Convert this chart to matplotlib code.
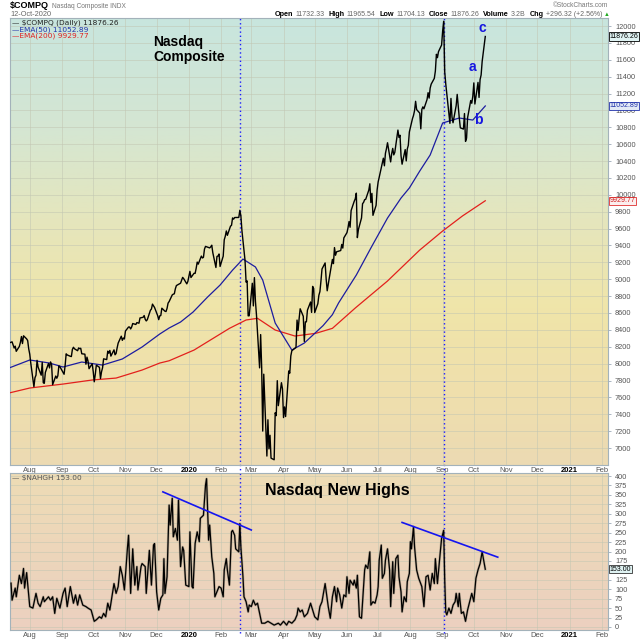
import numpy as np
import pandas as pd
import matplotlib
matplotlib.use('Agg')
import matplotlib.pyplot as plt
from matplotlib.colors import LinearSegmentedColormap

plt.rcParams['font.family'] = ['Liberation Sans', 'DejaVu Sans']

# ---- Nasdaq Composite daily closes ----
days_2019 = ['07-12', '07-15', '07-16', '07-17', '07-18', '07-19', '07-22', '07-23', '07-24', '07-25',
             '07-26', '07-29', '07-30', '07-31', '08-01', '08-02', '08-05', '08-06', '08-07', '08-08',
             '08-09', '08-12', '08-13', '08-14', '08-15', '08-16', '08-19', '08-20', '08-21', '08-22',
             '08-23', '08-26', '08-27', '08-28', '08-29', '08-30', '09-03', '09-04', '09-05', '09-06',
             '09-09', '09-10', '09-11', '09-12', '09-13', '09-16', '09-17', '09-18', '09-19', '09-20',
             '09-23', '09-24', '09-25', '09-26', '09-27', '09-30', '10-01', '10-02', '10-03', '10-04',
             '10-07', '10-08', '10-09', '10-10', '10-11', '10-14', '10-15', '10-16', '10-17', '10-18',
             '10-21', '10-22', '10-23', '10-24', '10-25', '10-28', '10-29', '10-30', '10-31', '11-01',
             '11-04', '11-05', '11-06', '11-07', '11-08', '11-11', '11-12', '11-13', '11-14', '11-15',
             '11-18', '11-19', '11-20', '11-21', '11-22', '11-25', '11-26', '11-27', '11-29', '12-02',
             '12-03', '12-04', '12-05', '12-06', '12-09', '12-10', '12-11', '12-12', '12-13', '12-16',
             '12-17', '12-18', '12-19', '12-20', '12-23', '12-24', '12-26', '12-27', '12-30', '12-31']
close_2019 = [8244, 8258, 8222, 8185, 8207, 8146, 8204, 8252, 8321, 8238,
              8330, 8293, 8273, 8175, 8111, 8004, 7726, 7833, 7863, 8039,
              7959, 7863, 8016, 7773, 7767, 7896, 8002, 7949, 8020, 7991,
              7751, 7853, 7827, 7856, 7974, 7963, 7874, 7977, 8116, 8103,
              8087, 8084, 8169, 8194, 8176, 8153, 8186, 8177, 8182, 8117,
              8112, 7993, 8077, 8031, 7940, 7999, 7908, 7785, 7872, 7982,
              7956, 7823, 7903, 7951, 8057, 8048, 8148, 8124, 8156, 8089,
              8163, 8105, 8120, 8186, 8243, 8325, 8276, 8303, 8292, 8386,
              8434, 8434, 8411, 8434, 8475, 8464, 8486, 8482, 8479, 8541,
              8549, 8570, 8526, 8506, 8520, 8632, 8647, 8705, 8665, 8568,
              8521, 8566, 8570, 8657, 8621, 8617, 8654, 8717, 8735, 8814,
              8823, 8827, 8887, 8925, 8945, 8953, 9022, 9007, 8945, 8973]

days_2020 = ['01-02', '01-03', '01-06', '01-07', '01-08', '01-09', '01-10', '01-13', '01-14', '01-15',
             '01-16', '01-17', '01-21', '01-22', '01-23', '01-24', '01-27', '01-28', '01-29', '01-30',
             '01-31', '02-03', '02-04', '02-05', '02-06', '02-07', '02-10', '02-11', '02-12', '02-13',
             '02-14', '02-18', '02-19', '02-20', '02-21', '02-24', '02-25', '02-26', '02-27', '02-28',
             '03-02', '03-03', '03-04', '03-05', '03-06', '03-09', '03-10', '03-11', '03-12', '03-13',
             '03-16', '03-17', '03-18', '03-19', '03-20', '03-23', '03-24', '03-25', '03-26', '03-27',
             '03-30', '03-31', '04-01', '04-02', '04-03', '04-06', '04-07', '04-08', '04-09', '04-13',
             '04-14', '04-15', '04-16', '04-17', '04-20', '04-21', '04-22', '04-23', '04-24', '04-27',
             '04-28', '04-29', '04-30', '05-01', '05-04', '05-05', '05-06', '05-07', '05-08', '05-11',
             '05-12', '05-13', '05-14', '05-15', '05-18', '05-19', '05-20', '05-21', '05-22', '05-26',
             '05-27', '05-28', '05-29', '06-01', '06-02', '06-03', '06-04', '06-05', '06-08', '06-09',
             '06-10', '06-11', '06-12', '06-15', '06-16', '06-17', '06-18', '06-19', '06-22', '06-23',
             '06-24', '06-25', '06-26', '06-29', '06-30', '07-01', '07-02', '07-06', '07-07', '07-08',
             '07-09', '07-10', '07-13', '07-14', '07-15', '07-16', '07-17', '07-20', '07-21', '07-22',
             '07-23', '07-24', '07-27', '07-28', '07-29', '07-30', '07-31', '08-03', '08-04', '08-05',
             '08-06', '08-07', '08-10', '08-11', '08-12', '08-13', '08-14', '08-17', '08-18', '08-19',
             '08-20', '08-21', '08-24', '08-25', '08-26', '08-27', '08-28', '08-31', '09-01', '09-02',
             '09-03', '09-04', '09-08', '09-09', '09-10', '09-11', '09-14', '09-15', '09-16', '09-17',
             '09-18', '09-21', '09-22', '09-23', '09-24', '09-25', '09-28', '09-29', '09-30', '10-01',
             '10-02', '10-05', '10-06', '10-07', '10-08', '10-09', '10-12']
close_2020 = [9093, 9020, 9071, 9069, 9129, 9203, 9179, 9274, 9252, 9259,
              9357, 9389, 9371, 9384, 9403, 9315, 9139, 9270, 9275, 9299,
              9151, 9273, 9467, 9509, 9572, 9520, 9628, 9639, 9726, 9712,
              9731, 9732, 9817, 9751, 9577, 9221, 8966, 8980, 8566, 8567,
              8952, 8684, 9019, 8738, 8576, 7950, 8344, 7952, 7201, 7875,
              6905, 7335, 6990, 7151, 6880, 6861, 7418, 7384, 7798, 7502,
              7774, 7700, 7361, 7487, 7373, 7913, 7887, 8091, 8153, 8193,
              8516, 8393, 8533, 8650, 8561, 8263, 8495, 8495, 8634, 8730,
              8607, 8915, 8890, 8605, 8710, 8810, 8854, 8980, 9121, 9193,
              9002, 8863, 8943, 9015, 9235, 9185, 9375, 9284, 9325, 9340,
              9412, 9369, 9490, 9552, 9609, 9683, 9616, 9814, 9924, 9953,
              10020, 9493, 9589, 9726, 9895, 9911, 9943, 9946, 10056, 10131,
              9909, 10017, 9757, 9875, 10059, 10154, 10208, 10434, 10344, 10492,
              10548, 10617, 10390, 10488, 10550, 10473, 10503, 10767, 10680, 10706,
              10462, 10363, 10536, 10402, 10543, 10587, 10745, 10903, 10941, 10998,
              11108, 11010, 10968, 10782, 11012, 11042, 11019, 11129, 11210, 11146,
              11265, 11312, 11380, 11466, 11665, 11625, 11696, 11775, 11939, 12056,
              11458, 11313, 10847, 11142, 10920, 10854, 11057, 11190, 11050, 10910,
              10794, 10779, 10963, 10633, 10672, 10914, 11117, 11085, 11168, 11326,
              11076, 11332, 11154, 11365, 11420, 11580, 11876]

# ---- moving averages ----
ema50_dates = ['2019-07-12', '2019-08-01', '2019-08-20', '2019-09-02', '2019-09-20', '2019-10-10',
               '2019-10-29', '2019-11-17', '2019-12-04', '2019-12-13', '2019-12-24', '2020-01-05',
               '2020-01-19', '2020-01-31', '2020-02-12', '2020-02-22', '2020-03-05', '2020-03-12',
               '2020-03-24', '2020-04-09', '2020-04-21', '2020-05-09', '2020-05-18', '2020-05-24',
               '2020-06-10', '2020-06-24', '2020-07-10', '2020-07-23', '2020-07-31', '2020-08-10',
               '2020-08-20', '2020-09-01', '2020-09-17', '2020-09-30', '2020-10-12']
ema50_vals = [7948, 8043, 8007, 7960, 8019, 7983,
              8055, 8197, 8351, 8422, 8493, 8611,
              8789, 8931, 9108, 9239, 9145, 8990,
              8481, 8161, 8244, 8450, 8580, 8720,
              9050, 9370, 9725, 9962, 10081, 10282,
              10472, 10851, 10910, 10886, 11052.89]

ema200_dates = ['2019-07-12', '2019-08-01', '2019-09-02', '2019-09-30', '2019-10-23', '2019-11-17',
                '2019-12-04', '2019-12-13', '2020-01-06', '2020-02-09', '2020-02-25', '2020-03-07',
                '2020-03-24', '2020-04-12', '2020-05-02', '2020-05-18', '2020-06-09', '2020-07-10',
                '2020-08-10', '2020-09-01', '2020-09-20', '2020-10-12']
ema200_vals = [7652, 7711, 7758, 7806, 7829, 7924,
               8007, 8034, 8161, 8418, 8517, 8537,
               8398, 8327, 8359, 8418, 8659, 8979,
               9346, 9571, 9749, 9929.77]

# ---- Nasdaq new highs ($NAHGH) ----
nahgh_dates = ['2019-07-14', '2019-07-15', '2019-07-18', '2019-07-19', '2019-07-22', '2019-07-24', '2019-07-26',
               '2019-07-27', '2019-07-29', '2019-08-01', '2019-08-04', '2019-08-07', '2019-08-09', '2019-08-11',
               '2019-08-14', '2019-08-15', '2019-08-19', '2019-08-21', '2019-08-23', '2019-08-25', '2019-08-27',
               '2019-08-30', '2019-09-02', '2019-09-04', '2019-09-06', '2019-09-09', '2019-09-12', '2019-09-14',
               '2019-09-16', '2019-09-18', '2019-09-21', '2019-09-24', '2019-09-26', '2019-09-29', '2019-10-02',
               '2019-10-04', '2019-10-07', '2019-10-09', '2019-10-11', '2019-10-13', '2019-10-15', '2019-10-17',
               '2019-10-19', '2019-10-21', '2019-10-23', '2019-10-25', '2019-10-27', '2019-10-29', '2019-10-31',
               '2019-11-03', '2019-11-04', '2019-11-06', '2019-11-08', '2019-11-10', '2019-11-12', '2019-11-13',
               '2019-11-16', '2019-11-17', '2019-11-20', '2019-11-21', '2019-11-24', '2019-11-26', '2019-11-28',
               '2019-11-29', '2019-12-01', '2019-12-03', '2019-12-05', '2019-12-07', '2019-12-08', '2019-12-09',
               '2019-12-11', '2019-12-13', '2019-12-14', '2019-12-16', '2019-12-17', '2019-12-19', '2019-12-21',
               '2019-12-22', '2019-12-23', '2019-12-24', '2019-12-26', '2019-12-27', '2019-12-29', '2020-01-01',
               '2020-01-02', '2020-01-04', '2020-01-05', '2020-01-07', '2020-01-09', '2020-01-11', '2020-01-12',
               '2020-01-15', '2020-01-17', '2020-01-18', '2020-01-20', '2020-01-21', '2020-01-23', '2020-01-25',
               '2020-01-26', '2020-01-30', '2020-02-01', '2020-02-03', '2020-02-04', '2020-02-06', '2020-02-07',
               '2020-02-09', '2020-02-11', '2020-02-12', '2020-02-14', '2020-02-15', '2020-02-18', '2020-02-19',
               '2020-02-20', '2020-02-22', '2020-02-23', '2020-02-25', '2020-02-27', '2020-02-28', '2020-03-01',
               '2020-03-03', '2020-03-05', '2020-03-07', '2020-03-09', '2020-03-11', '2020-03-14', '2020-03-17',
               '2020-03-20', '2020-03-23', '2020-03-27', '2020-03-29', '2020-04-01', '2020-04-04', '2020-04-06',
               '2020-04-09', '2020-04-12', '2020-04-14', '2020-04-15', '2020-04-17', '2020-04-19', '2020-04-21',
               '2020-04-24', '2020-04-27', '2020-04-29', '2020-05-01', '2020-05-04', '2020-05-06', '2020-05-08',
               '2020-05-11', '2020-05-14', '2020-05-16', '2020-05-18', '2020-05-20', '2020-05-22', '2020-05-23',
               '2020-05-25', '2020-05-27', '2020-05-29', '2020-05-31', '2020-06-01', '2020-06-03', '2020-06-04',
               '2020-06-07', '2020-06-08', '2020-06-10', '2020-06-11', '2020-06-13', '2020-06-15', '2020-06-16',
               '2020-06-18', '2020-06-19', '2020-06-21', '2020-06-23', '2020-06-24', '2020-06-26', '2020-06-28',
               '2020-06-30', '2020-07-01', '2020-07-02', '2020-07-04', '2020-07-05', '2020-07-07', '2020-07-08',
               '2020-07-10', '2020-07-12', '2020-07-13', '2020-07-15', '2020-07-16', '2020-07-18', '2020-07-20',
               '2020-07-21', '2020-07-23', '2020-07-24', '2020-07-26', '2020-07-28', '2020-07-29', '2020-07-31',
               '2020-08-01', '2020-08-02', '2020-08-04', '2020-08-05', '2020-08-07', '2020-08-09', '2020-08-12',
               '2020-08-14', '2020-08-16', '2020-08-18', '2020-08-20', '2020-08-22', '2020-08-24', '2020-08-25',
               '2020-08-27', '2020-08-29', '2020-08-31', '2020-09-02', '2020-09-03', '2020-09-04', '2020-09-05',
               '2020-09-07', '2020-09-09', '2020-09-11', '2020-09-13', '2020-09-14', '2020-09-16', '2020-09-17',
               '2020-09-19', '2020-09-21', '2020-09-23', '2020-09-25', '2020-09-27', '2020-09-29', '2020-10-01',
               '2020-10-03', '2020-10-05', '2020-10-07', '2020-10-09', '2020-10-12']
nahgh_vals = [116, 71, 103, 80, 137, 115, 155,
              103, 144, 54, 50, 89, 63, 54,
              80, 67, 80, 71, 80, 36, 76,
              50, 89, 103, 54, 107, 63, 85,
              58, 85, 58, 54, 50, 45, 15,
              19, 27, 23, 36, 27, 63, 45,
              80, 115, 89, 107, 160, 137, 98,
              212, 243, 89, 207, 111, 160, 98,
              160, 168, 160, 89, 203, 111, 217,
              221, 93, 45, 76, 85, 181, 89,
              133, 323, 270, 341, 239, 261, 230,
              336, 248, 160, 212, 203, 111, 107,
              252, 107, 103, 221, 252, 226, 288,
              296, 376, 393, 230, 270, 186, 142,
              80, 107, 103, 80, 151, 181, 151,
              111, 252, 256, 243, 207, 199, 274,
              212, 133, 80, 67, 40, 58, 54,
              71, 58, 63, 36, 10, 10, 15,
              10, 5, 10, 5, 15, 5, 15,
              10, 19, 32, 50, 40, 45, 27,
              36, 63, 45, 27, 19, 54, 67,
              115, 54, 23, 80, 107, 67, 103,
              85, 50, 85, 80, 133, 89, 124,
              111, 124, 103, 137, 27, 23, 67,
              151, 164, 155, 199, 58, 67, 63,
              85, 107, 177, 217, 129, 142, 177,
              207, 151, 54, 173, 89, 181, 190,
              133, 93, 40, 80, 67, 120, 142,
              226, 207, 266, 212, 151, 129, 107,
              54, 133, 137, 98, 142, 115, 181,
              115, 177, 235, 256, 124, 40, 32,
              50, 36, 58, 67, 89, 54, 89,
              36, 40, 15, 45, 67, 89, 67,
              129, 151, 168, 199, 153]

# trend lines drawn on the new highs panel
trend1_dates = ['2019-12-07', '2020-03-01']
trend1_vals = [358, 257]
trend2_dates = ['2020-07-24', '2020-10-24']
trend2_vals = [277, 185]
marker_dates = ['2020-02-19', '2020-09-02']

month_starts = ['2019-08-01', '2019-09-01', '2019-10-01', '2019-11-01', '2019-12-01', '2020-01-01',
                '2020-02-01', '2020-03-01', '2020-04-01', '2020-05-01', '2020-06-01', '2020-07-01',
                '2020-08-01', '2020-09-01', '2020-10-01', '2020-11-01', '2020-12-01', '2021-01-01',
                '2021-02-01']
month_labels = ['Aug', 'Sep', 'Oct', 'Nov', 'Dec', '2020', 'Feb', 'Mar', 'Apr', 'May', 'Jun', 'Jul',
                'Aug', 'Sep', 'Oct', 'Nov', 'Dec', '2021', 'Feb']

header_parts = [('Open', '11732.33'), ('High', '11965.54'), ('Low', '11704.13'),
                ('Close', '11876.26'), ('Volume', '3.2B'), ('Chg', '+296.32 (+2.56%)')]

# ---------------------------------------------------------------
price_dates = pd.to_datetime(['2019-' + d for d in days_2019] + ['2020-' + d for d in days_2020])
price_close = close_2019 + close_2020

W = H = 640
fig = plt.figure(figsize=(6.4, 6.4), dpi=100)
ax1 = fig.add_axes([10 / W, 1 - 465 / H, 598 / W, 447 / H])
ax2 = fig.add_axes([10 / W, 1 - 630 / H, 598 / W, 157 / H])

top_cmap = LinearSegmentedColormap.from_list('top', [(0, '#c8e5de'), (0.25, '#d5e6d2'), (0.45, '#e5e6bd'),
                                                     (0.65, '#f0e5a9'), (0.85, '#efdfad'), (1, '#ecdab3')])
bot_cmap = LinearSegmentedColormap.from_list('bot', ['#eedcb5', '#ecd0c0'])
grad = np.linspace(0, 1, 256).reshape(-1, 1)
for ax, cm in [(ax1, top_cmap), (ax2, bot_cmap)]:
    ax.imshow(grad, cmap=cm, extent=[0, 1, 0, 1], transform=ax.transAxes, aspect='auto', zorder=0)

xlim = (pd.Timestamp('2019-07-13'), pd.Timestamp('2021-02-07'))
ticks = pd.to_datetime(month_starts)

# top panel
ax1.plot(pd.to_datetime(ema200_dates), ema200_vals, color='#e3201c', lw=0.9, zorder=3)
ax1.plot(pd.to_datetime(ema50_dates), ema50_vals, color='#1c1ca0', lw=0.9, zorder=3)
ax1.plot(price_dates, price_close, color='black', lw=1.0, zorder=4)
ax1.set_ylim(6799, 12095)
ax1.set_yticks(np.arange(7000, 12001, 200))

# bottom panel
ax2.plot(pd.to_datetime(nahgh_dates), nahgh_vals, color='#8a8070', lw=1.8, alpha=0.5, zorder=3)
ax2.plot(pd.to_datetime(nahgh_dates), nahgh_vals, color='black', lw=0.9, zorder=4)
ax2.plot(pd.to_datetime(trend1_dates), trend1_vals, color='#1515f0', lw=1.2, zorder=5)
ax2.plot(pd.to_datetime(trend2_dates), trend2_vals, color='#1515f0', lw=1.2, zorder=5)
ax2.set_ylim(-8, 408)
ax2.set_yticks(np.arange(0, 401, 25))

for ax in (ax1, ax2):
    ax.set_xlim(*xlim)
    ax.set_xticks(ticks)
    ax.set_xticklabels(month_labels)
    ax.yaxis.tick_right()
    ax.grid(True, color='#c2c6b2', lw=0.5, alpha=0.75)
    ax.tick_params(axis='x', length=0, pad=1.2, labelsize=5.5, labelcolor='#555555')
    ax.tick_params(axis='y', length=2.5, width=0.5, color='#8899aa', pad=2.5, labelsize=5.3,
                   labelcolor='#555555')
    for lbl in ax.get_xticklabels():
        if lbl.get_text().isdigit():
            lbl.set_fontweight('bold')
            lbl.set_color('black')
    for s in ax.spines.values():
        s.set_color('#a3b2ba')
        s.set_linewidth(0.8)
    for d in marker_dates:
        ax.axvline(pd.Timestamp(d), ymin=-0.02, ymax=1, color='#1a1aff', ls=(0, (1, 2)), lw=1.0,
                   zorder=2, clip_on=False)

# value tags on the right axis
def tag(ax, y, s, ec, fc, tc):
    ax.text(1.003, y, s, transform=ax.get_yaxis_transform(), ha='left', va='center', fontsize=5.0,
            color=tc, zorder=10, clip_on=False,
            bbox=dict(boxstyle='square,pad=0.1', fc=fc, ec=ec, lw=0.6))

tag(ax1, price_close[-1], '11876.26', 'black', '#dff2f2', 'black')
tag(ax1, ema50_vals[-1], '11052.89', '#2233aa', '#e3eaf6', '#2233aa')
tag(ax1, ema200_vals[-1], '9929.77', '#e03030', '#fbeeee', '#d02020')
tag(ax2, nahgh_vals[-1], '153.00', '#333333', '#dff2f2', 'black')

# legends
leg_kw = dict(transform=ax1.transAxes, fontsize=5.3, family='DejaVu Sans', va='center', ha='left', zorder=10)
ax1.text(0.004, 0.9895, '\u2014 $COMPQ (Daily) 11876.26', color='#222222', **leg_kw)
ax1.text(0.004, 0.9747, '\u2014EMA(50) 11052.89', color='#2233aa', **leg_kw)
ax1.text(0.004, 0.9604, '\u2014EMA(200) 9929.77', color='#e02020', **leg_kw)
ax2.text(0.004, 0.965, '\u2014 $NAHGH 153.00', color='#555555', transform=ax2.transAxes, fontsize=5.3,
         family='DejaVu Sans', va='center', ha='left', zorder=10)

# annotations
ax1.text(0.240, 0.962, 'Nasdaq\nComposite', transform=ax1.transAxes, fontsize=10, fontweight='bold',
         va='top', ha='left', linespacing=1.05, zorder=10)
for s, x, y in [('c', 0.789, 0.978), ('a', 0.773, 0.890), ('b', 0.783, 0.772)]:
    ax1.text(x, y, s, transform=ax1.transAxes, fontsize=10, fontweight='bold', color='#1515e0',
             ha='center', va='center', zorder=10)
ax2.text(0.427, 0.89, 'Nasdaq New Highs', transform=ax2.transAxes, fontsize=11.5, fontweight='bold',
         va='center', ha='left', zorder=10)

# header
renderer = fig.canvas.get_renderer()
t0 = fig.text(10 / W, 1 - 6 / H, '$COMPQ', fontsize=6.5, fontweight='bold', va='center', ha='left')
fig.text(t0.get_window_extent(renderer).x1 / W + 3 / W, 1 - 6 / H, 'Nasdaq Composite INDX', fontsize=4.8,
         color='#777777', va='center', ha='left')
fig.text(10 / W, 1 - 14 / H, '12-Oct-2020', fontsize=5.3, color='#666666', va='center', ha='left')
fig.text(608 / W, 1 - 5.5 / H, '\u00a9StockCharts.com', fontsize=4.8, color='#777777', va='center', ha='right')

items = []
x = 0.0
for lab, val in header_parts:
    t1 = fig.text(x, 1 - 15 / H, lab, fontsize=5.2, fontweight='bold', va='center', ha='left')
    x = t1.get_window_extent(renderer).x1 / W + 2 / W
    t2 = fig.text(x, 1 - 15 / H, val, fontsize=5.0, color='#666666', va='center', ha='left')
    x = t2.get_window_extent(renderer).x1 / W + 4 / W
    items += [t1, t2]
t3 = fig.text(x - 2 / W, 1 - 15 / H, '\u25b2', fontsize=4.2, color='#22aa22', va='center', ha='left')
items.append(t3)
shift = 610 / W - t3.get_window_extent(renderer).x1 / W
for t in items:
    px, py = t.get_position()
    t.set_position((px + shift, py))

fig.savefig('out.png', dpi=100)
